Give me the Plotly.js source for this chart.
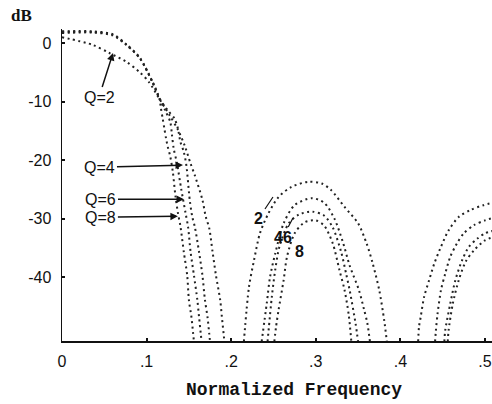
<!DOCTYPE html>
<html>
<head>
<meta charset="utf-8">
<script src="https://cdn.plot.ly/plotly-3.0.1.min.js"></script>
<style>html,body{margin:0;padding:0;background:#fff;}#chart{width:492px;height:404px;}</style>
</head>
<body>
<div id="chart"></div>
<script>
// Normalized frequency (x) and response in dB (y); null separates lobes
const q2X = [0, 0.036, 0.056, 0.076, 0.092, 0.103, 0.115, 0.127, 0.137, 0.145, 0.152, 0.157, 0.166, 0.170, 0.174, 0.178, 0.182, 0.187, 0.189, 0.191, 0.192,
  null, 0.215, 0.221, 0.227, 0.234, 0.244, 0.256, 0.271, 0.291, 0.307, 0.318, 0.334, 0.350, 0.360, 0.367, 0.375, 0.381, 0.384,
  null, 0.421, 0.422, 0.424, 0.428, 0.434, 0.440, 0.448, 0.457, 0.469, 0.483, 0.498, 0.509];
const q2Y = [1.0, -0.3, -1.7, -3.2, -5.0, -6.7, -9.5, -12.3, -14.8, -17.5, -20.6, -22.6, -26.8, -29.7, -31.6, -35.7, -39.7, -43.9, -46.8, -49.6, -51,
  null, -51, -41.7, -37.1, -32.5, -29.1, -26.3, -24.6, -23.7, -24.0, -25.1, -28.0, -30.8, -34.2, -37.5, -42.2, -47.5, -51,
  null, -51, -48.5, -46.8, -43.4, -40.5, -37.7, -34.8, -32.0, -29.7, -28.5, -27.7, -27.3];

const q4X = [0, 0.036, 0.060, 0.076, 0.092, 0.107, 0.115, 0.125, 0.133, 0.137, 0.140, 0.144, 0.147, 0.151, 0.154, 0.157, 0.162, 0.166, 0.169, 0.172, 0.174, 0.175,
  null, 0.236, 0.242, 0.246, 0.252, 0.262, 0.275, 0.295, 0.310, 0.322, 0.332, 0.340, 0.351, 0.357, 0.361, 0.364,
  null, 0.441, 0.442, 0.444, 0.448, 0.453, 0.459, 0.467, 0.475, 0.487, 0.500, 0.509];
const q4Y = [1.7, 1.8, 1.3, -0.3, -2.6, -6.7, -9.4, -11.5, -12.9, -14.6, -16.9, -18.6, -20.9, -26.8, -29.7, -31.4, -35.7, -39.7, -43.9, -46.8, -49.6, -51,
  null, -51, -44.5, -39.9, -36.0, -30.8, -27.7, -26.5, -27.3, -30.0, -34.0, -38.0, -42.2, -45.5, -47.9, -51,
  null, -51, -49.1, -46.2, -42.2, -39.4, -36.5, -34.2, -32.5, -31.1, -30.3, -29.9];

const q6X = [0, 0.036, 0.060, 0.076, 0.092, 0.107, 0.115, 0.122, 0.128, 0.130, 0.132, 0.136, 0.141, 0.146, 0.149, 0.152, 0.156, 0.160, 0.162, 0.164, 0.165,
  null, 0.243, 0.248, 0.252, 0.257, 0.268, 0.280, 0.296, 0.310, 0.320, 0.330, 0.336, 0.340, 0.347, 0.350,
  null, 0.452, 0.453, 0.459, 0.465, 0.473, 0.481, 0.491, 0.500, 0.509];
const q6Y = [1.9, 1.9, 1.4, -0.3, -2.6, -6.7, -9.4, -11.5, -13.5, -15.7, -18.0, -20.6, -25.0, -29.0, -31.4, -35.7, -39.7, -43.9, -46.8, -49.6, -51,
  null, -51, -43.4, -38.8, -34.8, -30.8, -29.3, -28.8, -29.5, -31.5, -35.7, -39.5, -42.2, -47.9, -51,
  null, -51, -49.1, -44.5, -40.5, -37.1, -34.8, -33.4, -32.5, -32.1];

const q8X = [0, 0.036, 0.060, 0.076, 0.092, 0.107, 0.115, 0.117, 0.119, 0.121, 0.123, 0.125, 0.128, 0.131, 0.134, 0.137, 0.140, 0.144, 0.148, 0.150, 0.153, 0.155, 0.156,
  null, 0.251, 0.253, 0.256, 0.262, 0.266, 0.275, 0.287, 0.300, 0.310, 0.320, 0.328, 0.334, 0.339, 0.342,
  null, 0.456, 0.457, 0.462, 0.469, 0.477, 0.487, 0.500, 0.509];
const q8Y = [2.0, 2.0, 1.5, -0.2, -2.5, -6.6, -9.4, -11.2, -12.9, -14.6, -16.3, -17.7, -19.4, -22.0, -26.0, -29.0, -31.3, -35.7, -39.7, -43.9, -46.8, -49.6, -51,
  null, -51, -48.5, -45.6, -40.5, -36.5, -32.5, -30.6, -30.3, -31.2, -34.2, -38.8, -42.2, -46.5, -51,
  null, -51, -49.1, -44.5, -40.5, -37.4, -35.4, -33.7, -33.2];

const xTickVals = [0, 0.1, 0.2, 0.3, 0.4, 0.5];
const xTickText = ['0', '.1', '.2', '.3', '.4', '.5'];
const yTickVals = [0, -10, -20, -30, -40];
const yTickText = ['0', '-10', '-20', '-30', '-40'];

const series = [
  {name: 'Q=2', x: q2X, y: q2Y},
  {name: 'Q=4', x: q4X, y: q4Y},
  {name: 'Q=6', x: q6X, y: q6Y},
  {name: 'Q=8', x: q8X, y: q8Y}
];

const traces = series.map(s => ({
  type: 'scatter', mode: 'lines', name: s.name, x: s.x, y: s.y,
  connectgaps: false, hoverinfo: 'skip',
  line: {color: '#222', width: 2, dash: '2px,3.5px', shape: 'spline', smoothing: 0.8}
}));

const lblFont = {family: 'Liberation Sans, Arial, sans-serif', size: 16, color: '#111'};
const arrowBase = {showarrow: true, arrowhead: 2, arrowsize: 1, arrowwidth: 1.5, arrowcolor: '#111', font: lblFont, xref: 'x', yref: 'y'};

const layout = {
  width: 492, height: 404,
  margin: {l: 62, r: 0, t: 29, b: 63},
  paper_bgcolor: '#fff', plot_bgcolor: '#fff',
  showlegend: false,
  xaxis: {
    range: [0, 0.5083], tickvals: xTickVals, ticktext: xTickText,
    showgrid: false, zeroline: false, showline: true, linecolor: '#111', linewidth: 1.5,
    ticks: 'inside', ticklen: 3, tickwidth: 2, tickcolor: '#111',
    tickfont: lblFont, ticklabelstandoff: 5, ticklabeloverflow: 'allow'
  },
  yaxis: {
    range: [-50.9, 2.4], tickvals: yTickVals, ticktext: yTickText,
    showgrid: false, zeroline: false, showline: true, linecolor: '#111', linewidth: 1.5,
    ticks: 'inside', ticklen: 3, tickwidth: 2, tickcolor: '#111',
    tickfont: lblFont, ticklabelstandoff: 6
  },
  annotations: [
    {text: '<b>dB</b>', xref: 'paper', yref: 'paper', x: -0.095, y: 1.042, xanchor: 'center', yanchor: 'middle', showarrow: false,
     font: {family: 'Liberation Serif, serif', size: 17, color: '#111'}},
    {text: '<b>Normalized Frequency</b>', xref: 'paper', yref: 'paper', x: 0.540, y: -0.158, xanchor: 'center', yanchor: 'middle', showarrow: false,
     font: {family: 'Liberation Mono, Courier New, monospace', size: 18, color: '#111'}},
    Object.assign({}, arrowBase, {text: 'Q=2', x: 0.0603, y: -1.7, ax: -14, ay: 44}),
    Object.assign({}, arrowBase, {text: 'Q=4', x: 0.143, y: -20.85, ax: -83, ay: 2}),
    Object.assign({}, arrowBase, {text: 'Q=6', x: 0.1442, y: -26.7, ax: -83, ay: 0}),
    Object.assign({}, arrowBase, {text: 'Q=8', x: 0.137, y: -29.6, ax: -77, ay: 1}),
    Object.assign({}, arrowBase, {text: '<b>2</b>', x: 0.2494, y: -26.3, ax: -14, ay: 21, arrowhead: 0, arrowwidth: 1.2}),
    Object.assign({}, arrowBase, {text: '<b>46</b>', x: 0.273, y: -29.9, ax: -10, ay: 19, arrowhead: 0, arrowwidth: 1.2}),
    {text: '<b>8</b>', xref: 'x', yref: 'y', x: 0.2813, y: -35.6, showarrow: false, font: lblFont}
  ]
};

Plotly.newPlot('chart', traces, layout, {displayModeBar: false, staticPlot: true});
</script>
</body>
</html>
